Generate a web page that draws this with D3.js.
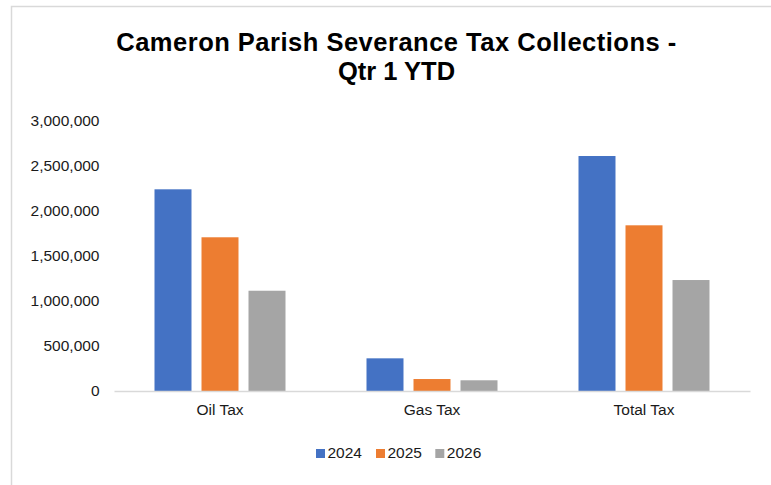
<!DOCTYPE html>
<html><head><meta charset="utf-8">
<script src="https://cdn.jsdelivr.net/npm/d3@7"></script>
<style>body{margin:0;background:#fff;} text{font-family:Arial,"Liberation Sans",sans-serif;}</style>
</head><body>
<svg id="c" width="771" height="485"></svg>
<script>
const categories = ["Oil Tax", "Gas Tax", "Total Tax"];
const seriesNames = ["2024", "2025", "2026"];
const values2024 = [2241000, 363000, 2611000];
const values2025 = [1708000, 133000, 1841000];
const values2026 = [1114000, 119000, 1233000];
const yTicks = [0, 500000, 1000000, 1500000, 2000000, 2500000, 3000000];
const colors = ["#4472C4", "#ED7D31", "#A5A5A5"];
const titleLines = ["Cameron Parish Severance Tax Collections -", "Qtr 1 YTD"];

const series = [values2024, values2025, values2026];
const svg = d3.select("#c");

// chart border
svg.append("rect").attr("x", 11.5).attr("y", 6.5).attr("width", 800).attr("height", 500)
  .attr("fill", "none").attr("stroke", "#d9d9d9").attr("stroke-width", 1.5);

const x0 = d3.scaleBand().domain(categories).range([114, 750]).padding(0);
const groupW = x0.bandwidth() * 131 / 212;
const x1 = d3.scaleBand().domain(seriesNames).range([0, groupW]).paddingInner(0.213).paddingOuter(0);
const y = d3.scaleLinear().domain([0, 3000000]).range([391, 121]);

// title
svg.append("text").attr("x", 396.5).attr("y", 51).attr("text-anchor", "middle")
  .attr("font-size", 25.5).attr("font-weight", "bold").attr("fill", "#000")
  .selectAll("tspan").data(titleLines).join("tspan")
  .attr("x", 396.5).attr("dy", (d, i) => i === 0 ? 0 : 29)
  .attr("letter-spacing", (d, i) => i === 0 ? 0.5 : 0).text(d => d);

// y axis labels
const yAxis = d3.axisLeft(y).tickValues(yTicks).tickSize(0).tickPadding(0).tickFormat(d3.format(","));
const ga = svg.append("g").attr("transform", "translate(99.5,0)").call(yAxis);
ga.select(".domain").remove();
ga.selectAll("text").attr("font-size", 15.5).attr("fill", "#1a1a1a").attr("font-family", "Arial, 'Liberation Sans', sans-serif");

// bars
const groups = svg.append("g").selectAll("g").data(categories).join("g")
  .attr("transform", c => `translate(${x0(c) + (x0.bandwidth() - groupW) / 2},0)`);
groups.selectAll("rect").data((c, ci) => seriesNames.map((s, si) => ({s, si, v: series[si][ci]})))
  .join("rect")
  .attr("x", d => x1(d.s)).attr("width", x1.bandwidth())
  .attr("y", d => y(d.v)).attr("height", d => y(0) - y(d.v))
  .attr("fill", d => colors[d.si]);

// x axis
const xAxis = d3.axisBottom(x0).tickSize(0).tickPadding(0);
const gx = svg.append("g").attr("transform", `translate(0,${y(0)})`).call(xAxis);
gx.select(".domain").attr("stroke", "#d9d9d9").attr("stroke-width", 1.5);
gx.selectAll("text").attr("font-size", 15.5).attr("fill", "#1a1a1a").attr("dy", "1.55em")
  .attr("font-family", "Arial, 'Liberation Sans', sans-serif");

// legend
const legX = [316, 376, 435.3];
const leg = svg.append("g").selectAll("g").data(seriesNames).join("g")
  .attr("transform", (d, i) => `translate(${legX[i]},449)`);
leg.append("rect").attr("width", 9).attr("height", 9).attr("fill", (d, i) => colors[i]);
leg.append("text").attr("x", 11.5).attr("y", 8.8).attr("font-size", 15.5).attr("fill", "#1a1a1a").text(d => d);
</script>
</body></html>
